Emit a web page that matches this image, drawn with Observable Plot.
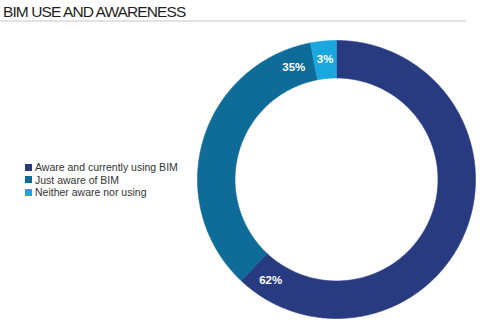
<!DOCTYPE html>
<html>
<head>
<meta charset="utf-8">
<script src="https://cdn.jsdelivr.net/npm/d3@7"></script>
<script src="https://cdn.jsdelivr.net/npm/@observablehq/plot@0.6"></script>
<style>
  html, body { margin: 0; padding: 0; background: #fff; }
  #wrap { position: relative; width: 480px; height: 320px; overflow: hidden; }
  #title { position: absolute; left: 3px; top: 4px; font-family: "Liberation Sans", Arial, sans-serif; font-size: 15.5px; letter-spacing: -0.9px; color: #1e1e1e; line-height: 16px; }
  #rule { position: absolute; left: 0; top: 20px; width: 466px; height: 2px; background: #e2e2e2; }
  #chart { position: absolute; left: 0; top: 24px; }
  #legend { position: absolute; left: 25px; top: 161px; font-family: "Liberation Sans", Arial, sans-serif; font-size: 10.5px; color: #333; }
  .row { display: flex; align-items: center; height: 12.5px; }
  .sw { width: 7px; height: 7px; margin-right: 3px; }
</style>
</head>
<body>
<div id="wrap">
  <div id="title">BIM USE AND AWARENESS</div>
  <div id="rule"></div>
  <div id="chart"></div>
  <div id="legend"></div>
</div>
<script>
const categories = ["Aware and currently using BIM", "Just aware of BIM", "Neither aware nor using"];
const values = [62, 35, 3];
const labels = ["62%", "35%", "3%"];
const colors = ["#283a80", "#0f6b98", "#1aa7de"];

const innerRatio = 0.73;
const labelRatio = 0.865;

// slice angles (clockwise from 12 o'clock)
const total = d3.sum(values);
let acc = 0;
const slices = categories.map((c, i) => {
  const a0 = acc / total * 2 * Math.PI;
  acc += values[i];
  const a1 = acc / total * 2 * Math.PI;
  return {c, i, a0, a1};
});

// polygon outlines in unit coordinates
const ring = [];
for (const s of slices) {
  const n = Math.max(4, Math.ceil((s.a1 - s.a0) / 0.01));
  const pts = [];
  for (let k = 0; k <= n; k++) {
    const a = s.a0 + (s.a1 - s.a0) * k / n;
    pts.push([Math.sin(a), Math.cos(a)]);
  }
  for (let k = n; k >= 0; k--) {
    const a = s.a0 + (s.a1 - s.a0) * k / n;
    pts.push([innerRatio * Math.sin(a), innerRatio * Math.cos(a)]);
  }
  pts.push(pts[0]);
  pts.forEach((p, j) => ring.push({cat: s.c, x: p[0], y: p[1], j}));
}

const labelData = slices.map(s => {
  const mid = (s.a0 + s.a1) / 2;
  const a = Math.max(mid, s.a1 - 10 * Math.PI / 180);
  return {text: labels[s.i], x: labelRatio * Math.sin(a), y: labelRatio * Math.cos(a)};
});

const plot = Plot.plot({
  width: 480,
  height: 296,
  x: {domain: [-1, 1], range: [197, 475], axis: null},
  y: {domain: [-1, 1], range: [294, 16], axis: null},
  color: {domain: categories, range: colors},
  marks: [
    Plot.line(ring, {x: "x", y: "y", z: "cat", fill: "cat", stroke: "cat", strokeWidth: 0.6, curve: "linear"}),
    Plot.text(labelData, {x: "x", y: "y", text: "text", fill: "white", fontWeight: "bold", fontSize: 11.5, fontFamily: "Liberation Sans, Arial, sans-serif"})
  ]
});
document.getElementById("chart").appendChild(plot);

const leg = document.getElementById("legend");
categories.forEach((c, i) => {
  const r = document.createElement("div");
  r.className = "row";
  const sw = document.createElement("div");
  sw.className = "sw";
  sw.style.background = colors[i];
  const t = document.createElement("span");
  t.textContent = c;
  r.appendChild(sw); r.appendChild(t);
  leg.appendChild(r);
});
</script>
</body>
</html>
